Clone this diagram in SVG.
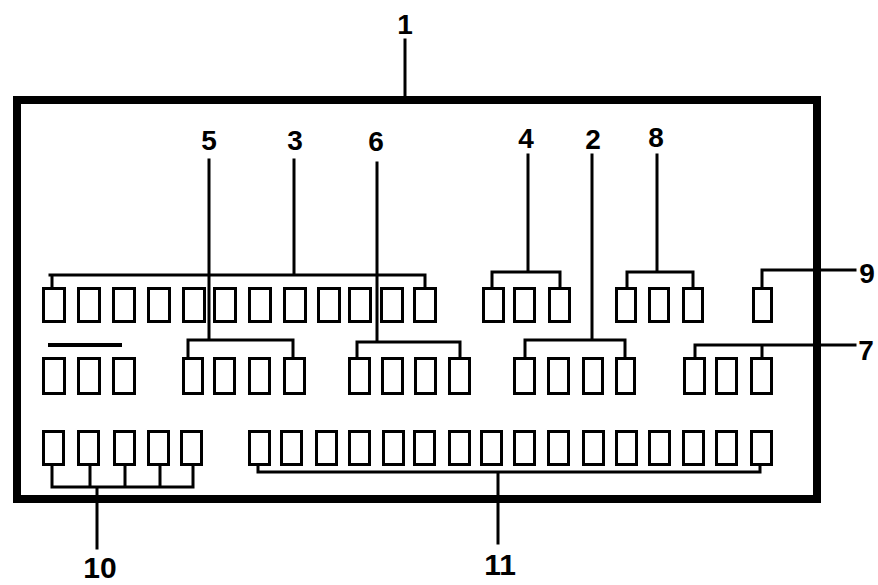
<svg xmlns="http://www.w3.org/2000/svg" width="878" height="585" viewBox="0 0 878 585">
<style>
.box{fill:none;stroke:#000;stroke-width:3}
.frame{fill:none;stroke:#000;stroke-width:8}
.ln{fill:none;stroke:#000;stroke-width:3;stroke-linecap:square}
.lbl{font-family:"Liberation Sans",Arial,sans-serif;font-weight:bold;font-size:28px;fill:#000;text-anchor:middle}
.big{font-size:30px}
</style>
<rect width="878" height="585" fill="#fff"/>
<g id="frame"><rect class="frame" x="17" y="100" width="800" height="399"/></g>

<g id="row1-group3">
<rect class="box" x="43.5" y="288.5" width="21" height="33"/>
<rect class="box" x="78.5" y="288.5" width="21" height="33"/>
<rect class="box" x="113.5" y="288.5" width="21" height="33"/>
<rect class="box" x="148.5" y="288.5" width="21" height="33"/>
<rect class="box" x="183.5" y="288.5" width="21" height="33"/>
<rect class="box" x="214.5" y="288.5" width="21" height="33"/>
<rect class="box" x="249.5" y="288.5" width="21" height="33"/>
<rect class="box" x="284.5" y="288.5" width="21" height="33"/>
<rect class="box" x="318.5" y="288.5" width="21" height="33"/>
<rect class="box" x="349.5" y="288.5" width="21" height="33"/>
<rect class="box" x="381.5" y="288.5" width="21" height="33"/>
<rect class="box" x="414.5" y="288.5" width="21" height="33"/>
</g>
<g id="row1-group4">
<rect class="box" x="483.5" y="288.5" width="20" height="33"/>
<rect class="box" x="514.5" y="288.5" width="20" height="33"/>
<rect class="box" x="549.5" y="288.5" width="20" height="33"/>
</g>
<g id="row1-group8">
<rect class="box" x="616.5" y="288.5" width="19" height="33"/>
<rect class="box" x="649.5" y="288.5" width="19" height="33"/>
<rect class="box" x="683.5" y="288.5" width="19" height="33"/>
</g>
<g id="row1-group9">
<rect class="box" x="753.5" y="288.5" width="18" height="33"/>
</g>

<g id="row2-groupA">
<rect class="box" x="43.5" y="358.5" width="21" height="35"/>
<rect class="box" x="78.5" y="358.5" width="21" height="35"/>
<rect class="box" x="113.5" y="358.5" width="21" height="35"/>
</g>
<g id="row2-group5">
<rect class="box" x="183.5" y="358.5" width="19" height="35"/>
<rect class="box" x="214.5" y="358.5" width="20" height="35"/>
<rect class="box" x="249.5" y="358.5" width="20" height="35"/>
<rect class="box" x="284.5" y="358.5" width="20" height="35"/>
</g>
<g id="row2-group6">
<rect class="box" x="349.5" y="358.5" width="20" height="35"/>
<rect class="box" x="382.5" y="358.5" width="20" height="35"/>
<rect class="box" x="415.5" y="358.5" width="20" height="35"/>
<rect class="box" x="449.5" y="358.5" width="20" height="35"/>
</g>
<g id="row2-group2">
<rect class="box" x="514.5" y="358.5" width="20" height="35"/>
<rect class="box" x="548.5" y="358.5" width="20" height="35"/>
<rect class="box" x="583.5" y="358.5" width="19" height="35"/>
<rect class="box" x="616.5" y="358.5" width="18" height="35"/>
</g>
<g id="row2-group7">
<rect class="box" x="684.5" y="358.5" width="20" height="35"/>
<rect class="box" x="716.5" y="358.5" width="20" height="35"/>
<rect class="box" x="751.5" y="358.5" width="20" height="35"/>
</g>

<g id="row3-group10">
<rect class="box" x="43.5" y="431.5" width="20" height="33"/>
<rect class="box" x="78.5" y="431.5" width="20" height="33"/>
<rect class="box" x="114.5" y="431.5" width="20" height="33"/>
<rect class="box" x="148.5" y="431.5" width="20" height="33"/>
<rect class="box" x="181.5" y="431.5" width="20" height="33"/>
</g>
<g id="row3-group11">
<rect class="box" x="249.5" y="431.5" width="20" height="33"/>
<rect class="box" x="281.5" y="431.5" width="20" height="33"/>
<rect class="box" x="316.5" y="431.5" width="20" height="33"/>
<rect class="box" x="349.5" y="431.5" width="20" height="33"/>
<rect class="box" x="383.5" y="431.5" width="20" height="33"/>
<rect class="box" x="414.5" y="431.5" width="20" height="33"/>
<rect class="box" x="449.5" y="431.5" width="20" height="33"/>
<rect class="box" x="481.5" y="431.5" width="20" height="33"/>
<rect class="box" x="514.5" y="431.5" width="20" height="33"/>
<rect class="box" x="548.5" y="431.5" width="20" height="33"/>
<rect class="box" x="583.5" y="431.5" width="20" height="33"/>
<rect class="box" x="616.5" y="431.5" width="20" height="33"/>
<rect class="box" x="649.5" y="431.5" width="20" height="33"/>
<rect class="box" x="683.5" y="431.5" width="20" height="33"/>
<rect class="box" x="716.5" y="431.5" width="20" height="33"/>
<rect class="box" x="751.5" y="431.5" width="20" height="33"/>
</g>

<g id="connectors">
<path class="ln" d="M405 40V97"/>
<path class="ln" d="M294 160V275M50 275H425M52 275V288M425 275V288"/>
<path class="ln" d="M209 160V340M188 340H293M188 340V357M293 340V357"/>
<path class="ln" d="M377 163V342M357 342H460M357 342V357M460 342V357"/>
<path class="ln" d="M528 155V272M492 272H560M492 272V287M560 272V287"/>
<path class="ln" d="M592 155V340M525 340H625M525 340V357M625 340V357"/>
<path class="ln" d="M657 155V272M627 272H693M627 272V287M693 272V287"/>
<path class="ln" d="M762 270H855M762 270V287"/>
<path class="ln" d="M695 345H855M695 345V357M762 345V357"/>
<path class="ln" d="M50 345H120" style="stroke-width:4"/>
<path class="ln" d="M52 465V487M90 465V487M125 465V487M160 465V487M193 465V487M52 487H193M97 487V548"/>
<path class="ln" d="M258 465V472M760 465V472M258 472H760M498 472V543"/>
</g>

<g id="labels">
<g id="label1"><text class="lbl" x="405" y="34">1</text></g>
<g id="label5"><text class="lbl" x="209" y="150">5</text></g>
<g id="label3"><text class="lbl" x="295" y="150">3</text></g>
<g id="label6"><text class="lbl" x="376" y="151">6</text></g>
<g id="label4"><text class="lbl" x="526" y="148">4</text></g>
<g id="label2"><text class="lbl" x="593" y="149">2</text></g>
<g id="label8"><text class="lbl" x="656" y="147">8</text></g>
<g id="label9"><text class="lbl" x="867" y="283">9</text></g>
<g id="label7"><text class="lbl" x="866" y="360">7</text></g>
<g id="label10"><text class="lbl big" x="100" y="578">10</text></g>
<g id="label11"><text class="lbl big" x="500" y="575">11</text></g>
</g>
</svg>
